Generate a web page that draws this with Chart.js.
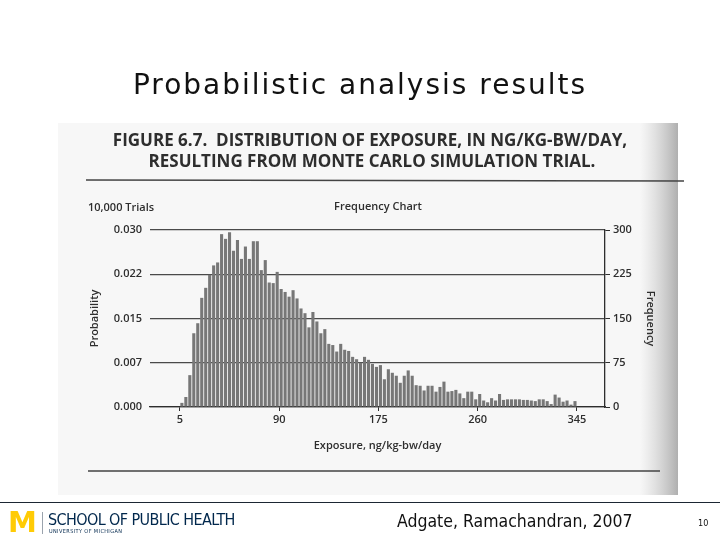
<!DOCTYPE html>
<html>
<head>
<meta charset="utf-8">
<script src="https://cdn.jsdelivr.net/npm/chart.js@4.4.1/dist/chart.umd.min.js"></script>
<style>
  html, body { margin: 0; padding: 0; background: #fff; }
  body { width: 720px; height: 540px; position: relative; overflow: hidden; font-family: "DejaVu Sans Condensed", "DejaVu Sans", sans-serif; }
  #chart { position: absolute; left: 0; top: 0; }
  #slideTitle { position: absolute; left: 0; top: 68px; width: 720px; text-align: center; font: 28px "DejaVu Sans", sans-serif; letter-spacing: 2px; color: #111; }
  #footLine { position: absolute; left: 0; top: 502px; width: 720px; height: 1px; background: #1b2633; }
  #logoM { position: absolute; left: 8px; top: 505px; font: bold 29px "DejaVu Sans", sans-serif; color: #ffcb05; }
  #logoSep { position: absolute; left: 42px; top: 512px; width: 1px; height: 22px; background: #9aa3ad; }
  #school { position: absolute; left: 48px; top: 510px; font-size: 16px; color: #00274c; letter-spacing: -0.6px; }
  #univ { position: absolute; left: 49px; top: 528px; font-size: 5.5px; color: #00274c; letter-spacing: 0.4px; }
  #cite { position: absolute; left: 397px; top: 511px; font-size: 17.5px; color: #111; }
  #page { position: absolute; left: 698px; top: 518px; font-size: 9px; color: #111; }
</style>
</head>
<body>
<canvas id="chart" width="720" height="540"></canvas>
<div id="slideTitle">Probabilistic analysis results</div>
<div id="footLine"></div>
<div id="logoM">M</div>
<div id="logoSep"></div>
<div id="school">SCHOOL OF PUBLIC HEALTH</div>
<div id="univ">UNIVERSITY OF MICHIGAN</div>
<div id="cite">Adgate, Ramachandran, 2007</div>
<div id="page">10</div>
<script>
// histogram: 100 bins from 5 to 345
const binStart = 5;
const binWidth = 3.4;
const frequency = [
  7, 17, 54, 125, 142, 185, 202, 224, 240, 245,
  293, 285, 296, 265, 283, 251, 272, 251, 281, 281,
  232, 249, 211, 210, 229, 200, 195, 187, 198, 184,
  167, 159, 135, 161, 145, 125, 132, 107, 105, 94,
  107, 97, 95, 85, 81, 75, 85, 80, 73, 68,
  71, 47, 64, 58, 53, 41, 53, 62, 53, 37,
  36, 28, 36, 36, 26, 34, 43, 26, 27, 29,
  23, 15, 26, 26, 13, 22, 11, 8, 15, 11,
  22, 12, 13, 13, 13, 13, 12, 12, 11, 10,
  13, 13, 10, 5, 21, 16, 9, 11, 4, 10
];
const xTicks = [5, 90, 175, 260, 345];
const probTicks = [0, 0.0075, 0.015, 0.0225, 0.03];
const probLabels = ['0.000', '0.007', '0.015', '0.022', '0.030'];
const freqTicks = [0, 75, 150, 225, 300];

const points = frequency.map((f, i) => ({ x: binStart + binWidth * (i + 0.5), y: f }));

const ink = '#2e2e2e';
const axisFont = { family: 'Open Sans', size: 11, weight: '600' };

// the scanned page, its heading and rules
const scanPage = {
  id: 'scanPage',
  beforeDraw(chart) {
    const c = chart.ctx;
    c.save();
    c.fillStyle = '#f7f7f7';
    c.fillRect(58, 123, 620, 372);
    let g = c.createLinearGradient(640, 0, 678, 0);
    g.addColorStop(0, 'rgba(200,200,200,0)');
    g.addColorStop(1, 'rgba(175,175,175,1)');
    c.fillStyle = g;
    c.fillRect(640, 123, 38, 372);

    c.fillStyle = ink;
    c.textAlign = 'center';
    c.textBaseline = 'middle';
    c.font = 'bold 17px "Open Sans"';
    c.fillText('FIGURE 6.7.  DISTRIBUTION OF EXPOSURE, IN NG/KG-BW/DAY,', 370, 141, 532);
    c.fillText('RESULTING FROM MONTE CARLO SIMULATION TRIAL.', 372, 162, 458);

    c.strokeStyle = '#444';
    c.lineWidth = 1.5;
    c.beginPath();
    c.moveTo(86, 180); c.lineTo(684, 181);
    c.moveTo(88, 471); c.lineTo(660, 471);
    c.stroke();

    c.font = '600 11px "Open Sans"';
    c.textAlign = 'left';
    c.fillText('10,000 Trials', 88, 208);
    c.textAlign = 'center';
    c.fillText('Frequency Chart', 378, 207);
    c.restore();
  }
};

const ctx = document.getElementById('chart').getContext('2d');

const myChart = new Chart(ctx, {
  type: 'bar',
  data: {
    datasets: [{
      data: points,
      yAxisID: 'yFreq',
      backgroundColor: '#777777',
      borderColor: '#555555',
      borderWidth: 0,
      barPercentage: 0.78,
      categoryPercentage: 1,
      grouped: false
    }]
  },
  options: {
    responsive: false,
    animation: false,
    events: [],
    layout: { padding: { top: 230, right: 0, bottom: 0, left: 0 } },
    plugins: { legend: { display: false }, tooltip: { enabled: false } },
    scales: {
      x: {
        type: 'linear',
        min: -20.6,
        max: 369,
        offset: false,
        afterBuildTicks: s => { s.ticks = xTicks.map(v => ({ value: v })); },
        afterFit: s => { s.height = 133; },
        ticks: { color: ink, font: axisFont, padding: 2, maxRotation: 0, autoSkip: false },
        grid: { offset: false, drawOnChartArea: false, drawTicks: true, tickLength: 4, color: ink },
        border: { display: true, color: ink, width: 1.3 },
        title: { display: true, text: 'Exposure, ng/kg-bw/day', color: ink, font: axisFont, padding: { top: 0, bottom: 88 } }
      },
      yProb: {
        position: 'left',
        min: 0,
        max: 0.03,
        afterBuildTicks: s => { s.ticks = probTicks.map(v => ({ value: v })); },
        afterFit: s => { s.width = 150; },
        ticks: { color: ink, font: axisFont, padding: 8, callback: (v, i) => probLabels[i] },
        grid: { color: '#4a4a4a', lineWidth: 1.2, drawTicks: false },
        border: { display: false },
        title: { display: true, text: 'Probability', color: ink, font: axisFont, padding: { top: 88 } }
      },
      yFreq: {
        position: 'right',
        min: 0,
        max: 300,
        afterBuildTicks: s => { s.ticks = freqTicks.map(v => ({ value: v })); },
        afterFit: s => { s.width = 115; },
        ticks: { color: ink, font: axisFont, padding: 3 },
        grid: { drawOnChartArea: false, drawTicks: true, tickLength: 5, color: ink },
        border: { display: true, color: ink, width: 1.3 },
        title: { display: true, text: 'Frequency', color: ink, font: axisFont, padding: { top: 63 } }
      }
    }
  },
  plugins: [scanPage]
});
</script>
</body>
</html>
